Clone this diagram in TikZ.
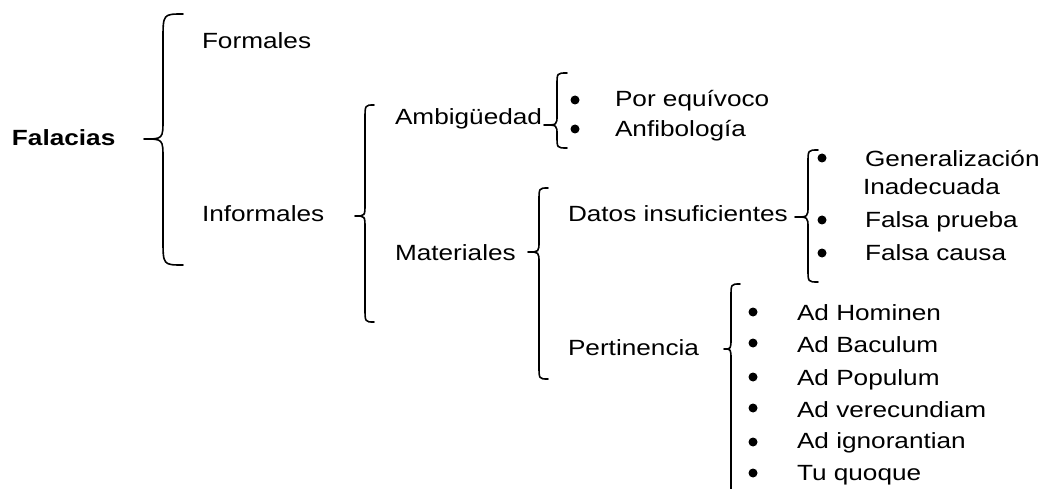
\documentclass[tikz,border=0pt]{standalone}
\usepackage{fontspec}
\setmainfont{Liberation Sans}[FakeStretch=1.19]
% #1 end x, #2 vertical x, #3 tip x, #4 top y, #5 tip y, #6 bottom y, #7 end radius, #8 tip radius
\newcommand\wordbrace[8]{%
  \draw[bracel] (#1,#4) .. controls (#2,#4) .. (#2,#4+#7) -- (#2,#5-#8)
    .. controls (#2,#5) .. (#3,#5) .. controls (#2,#5) .. (#2,#5+#8)
    -- (#2,#6-#7) .. controls (#2,#6) .. (#1,#6);}
\begin{document}
\begin{tikzpicture}[x=1pt,y=-1pt,
  txt/.style={anchor=base west,inner sep=0pt,outer sep=0pt,font=\fontsize{22}{26}\selectfont},
  dot/.style={circle,fill=black,draw=none,inner sep=0pt,minimum size=9pt},
  bracel/.style={draw=black,line width=1.6pt,line cap=round,line join=round}]
\useasboundingbox[fill=white] (0,0) rectangle (1044,489);
% level 0
\node[txt,font=\fontsize{22}{26}\selectfont\bfseries] (falacias) at (12,146) {Falacias};
% level 1
\node[txt] (formales) at (202,49) {Formales};
\node[txt] (informales) at (202,222) {Informales};
% level 2
\node[txt] (ambig) at (395,125) {Ambigüedad};
\node[txt] (materiales) at (395,260) {Materiales};
% ambiguedad list
\node[dot] (b1) at (575,100) {};
\node[dot] (b2) at (575,129) {};
\node[txt] (porequ) at (615,107) {Por equívoco};
\node[txt] (anfib) at (615,137) {Anfibología};
% level 3
\node[txt] (datos) at (568,222) {Datos insuficientes};
\node[txt] (pert) at (568,355) {Pertinencia};
% datos list
\node[dot] (b3) at (822,158) {};
\node[dot] (b4) at (822,220) {};
\node[dot] (b5) at (822,253) {};
\node[txt] (gen) at (865,167) {Generalización};
\node[txt] (inad) at (863,195) {Inadecuada};
\node[txt] (fprueba) at (865,228) {Falsa prueba};
\node[txt] (fcausa) at (865,260) {Falsa causa};
% pertinencia list
\node[dot] (p1) at (753,312) {};
\node[dot] (p2) at (753,343) {};
\node[dot] (p3) at (753,377) {};
\node[dot] (p4) at (753,408) {};
\node[dot] (p5) at (753,442) {};
\node[dot] (p6) at (753,473) {};
\node[txt] (adhom) at (797,320) {Ad Hominen};
\node[txt] (adbac) at (797,352) {Ad Baculum};
\node[txt] (adpop) at (797,385) {Ad Populum};
\node[txt] (adver) at (797,417) {Ad verecundiam};
\node[txt] (adign) at (797,448) {Ad ignorantian};
\node[txt] (tuquo) at (797,480) {Tu quoque};
% braces
\wordbrace{183}{163}{144}{14}{139}{265}{26}{20}
\wordbrace{374}{365}{355}{105}{216}{322}{14}{12}
\wordbrace{567}{557}{544}{73}{125}{148}{12}{10}
\wordbrace{548}{539}{528}{188}{252}{379}{13}{11}
\wordbrace{818}{808}{795}{150}{217}{282}{13}{11}
\wordbrace{740}{731}{724}{284}{349}{500}{13}{11}
\end{tikzpicture}
\end{document}
